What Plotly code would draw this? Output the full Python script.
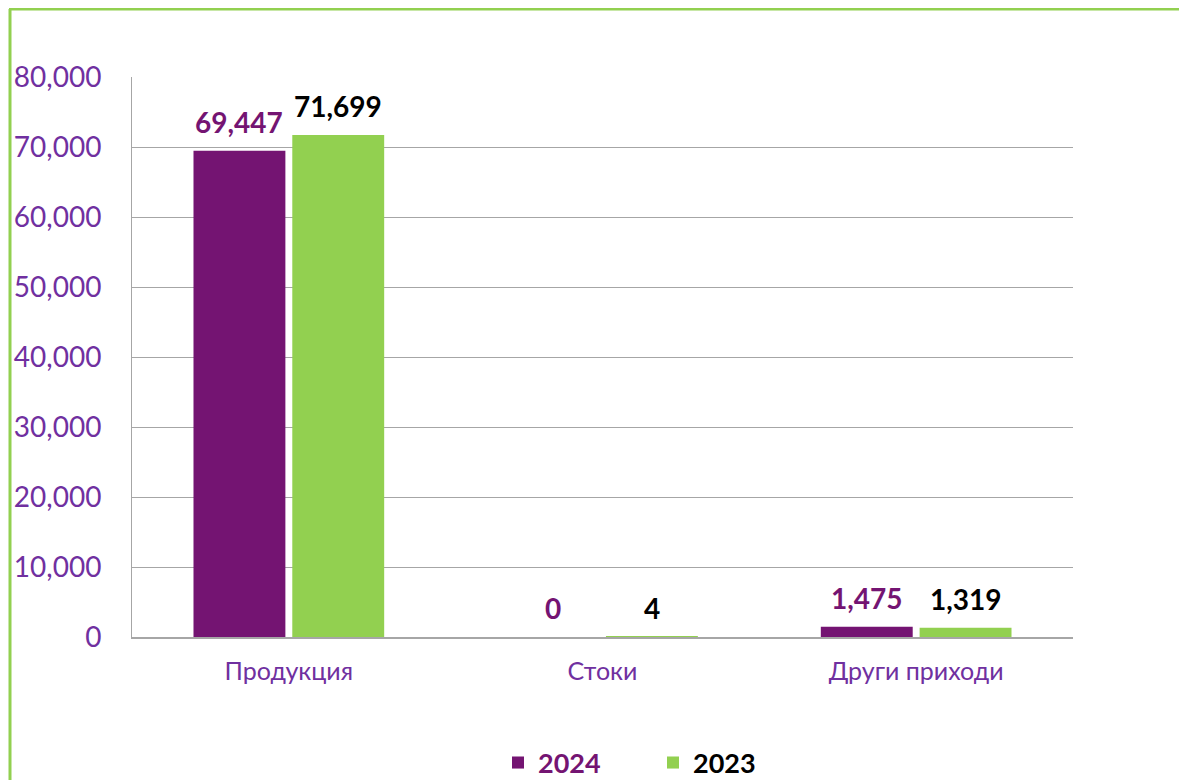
import plotly.graph_objects as go

categories = ["Продукция", "Стоки", "Други приходи"]
values_2024 = [69447, 0, 1475]
values_2023 = [71699, 4, 1319]
y_ticks = [0, 10000, 20000, 30000, 40000, 50000, 60000, 70000, 80000]

PURPLE = "#741472"
GREEN = "#92D050"
AXIS_TEXT = "#7030A0"
FONT = "Lato, 'Open Sans', sans-serif"

# page body has an 8px margin, so the figure starts at (8, 8) on screen
OFF = 8
W, H = 1187 - OFF, 780 - OFF
# plot area in screen pixels: x 132..1073, y 77..637
L, R, T, B = 132 - OFF, (1187 - 1073), 77 - OFF, 780 - 637
pw, ph = W - L - R, H - T - B

BARGAP = 0.37
GROUPGAP = 0.07


def px_x(x):
    return (x - OFF - L) / pw


def px_y(y):
    return (H - B - (y - OFF)) / ph


fig = go.Figure()
fig.add_trace(go.Bar(
    x=categories, y=values_2024,
    name="<b>2024</b>",
    marker=dict(color=PURPLE, line=dict(width=0)),
))
fig.add_trace(go.Bar(
    x=categories, y=values_2023,
    name="<b><span style='color:#000000'>2023</span></b>",
    marker=dict(color=GREEN, line=dict(width=0)),
))

# data labels, placed above each bar of the group
slot = pw / len(categories) * (1 - BARGAP) / 2
annotations = []
for vals, color, shift in [(values_2024, PURPLE, -slot / 2), (values_2023, "#000000", slot / 2)]:
    for cat, v in zip(categories, vals):
        annotations.append(dict(
            x=cat, y=v, xref="x", yref="y",
            text=f"<b>{v:,}</b>", showarrow=False,
            xshift=shift, yanchor="bottom", yshift=10,
            font=dict(family=FONT, size=28, color=color),
        ))

fig.update_layout(
    width=W, height=H,
    margin=dict(l=L, r=R, t=T, b=B, autoexpand=False),
    paper_bgcolor="white",
    plot_bgcolor="white",
    barmode="group",
    bargap=BARGAP,
    bargroupgap=GROUPGAP,
    font=dict(family=FONT),
    showlegend=True,
    legend=dict(
        orientation="h",
        x=px_x(498), xanchor="left",
        y=px_y(763), yanchor="middle",
        entrywidth=110, entrywidthmode="pixels",
        font=dict(size=27, color=PURPLE),
        traceorder="normal",
    ),
    xaxis=dict(
        showgrid=False,
        showline=True, linecolor="#A6A6A6", linewidth=2,
        ticks="",
        tickfont=dict(size=25, color=AXIS_TEXT),
        ticklabelstandoff=11,
    ),
    yaxis=dict(
        range=[0, 80000],
        tickvals=y_ticks,
        tickformat=",",
        showgrid=True, gridcolor="#A6A6A6", gridwidth=1,
        showline=True, linecolor="#A6A6A6", linewidth=1,
        zeroline=False,
        ticks="",
        tickfont=dict(size=28, color=AXIS_TEXT),
        ticklabelstandoff=24,
    ),
    annotations=annotations,
    shapes=[
        dict(type="line", xref="paper", yref="paper",
             x0=px_x(9), x1=px_x(1200), y0=px_y(9), y1=px_y(9),
             line=dict(color=GREEN, width=3)),
        dict(type="line", xref="paper", yref="paper",
             x0=px_x(10), x1=px_x(10), y0=px_y(9), y1=px_y(800),
             line=dict(color=GREEN, width=3)),
    ],
)

fig.write_html("out.html")
